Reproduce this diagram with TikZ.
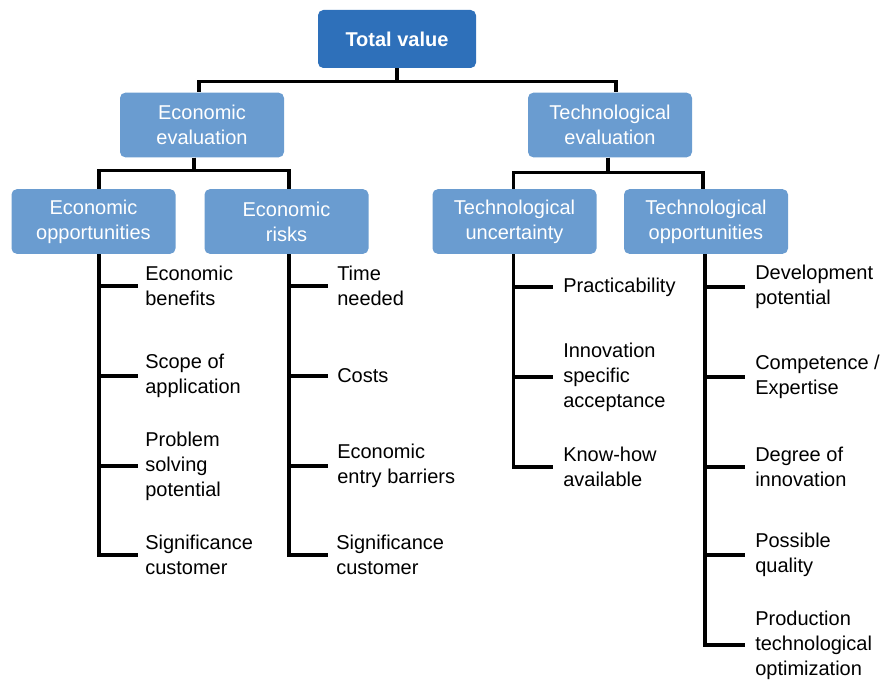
\documentclass[tikz,border=0pt]{standalone}
\usepackage{fontspec}
\setmainfont{Liberation Sans}
\usetikzlibrary{calc}
\definecolor{darkbox}{HTML}{2E70BA}
\definecolor{lightbox}{HTML}{6A9CD0}
\begin{document}
\begin{tikzpicture}[x=0.75pt,y=-0.75pt,
  every node/.style={font=\fontsize{15}{18.75}\selectfont},
  topbox/.style={fill=darkbox,text=white,font=\fontsize{15}{18.75}\selectfont\bfseries,rounded corners=4pt,minimum width=118.5pt,minimum height=43.5pt,inner sep=0pt},
  midbox/.style={fill=lightbox,text=white,align=center,rounded corners=4pt,minimum width=123pt,minimum height=48.5pt,inner sep=0pt},
  leaf/.style={anchor=west,align=left,inner sep=0pt},
  conn/.style={draw=black,line width=2.3pt,line join=miter}
]
\useasboundingbox (0,0) rectangle (883,680);
% boxes
\node[topbox] (top) at (397,39) {Total value};
\node[midbox] (ee) at (202,125) {Economic\\evaluation};
\node[midbox] (te) at (610,125) {Technological\\evaluation};
\node[midbox] (eo) at (93.5,221.5) {Economic\\opportunities};
\node[midbox] (er) at (286.5,221.5) {Economic\\risks};
\node[midbox] (tu) at (514.5,221.5) {Technological\\uncertainty};
\node[midbox] (to) at (706,221.5) {Technological\\opportunities};
% leaves
\node[leaf] (e1) at (145,286) {Economic\\benefits};
\node[leaf] (e2) at (145,376) {Scope of\\application};
\node[leaf] (e3) at (145,466) {Problem\\solving\\potential};
\node[leaf] (e4) at (145,555) {Significance\\customer};
\node[leaf] (r1) at (337,286) {Time\\needed};
\node[leaf] (r2) at (337,376) {Costs};
\node[leaf] (r3) at (337,466) {Economic\\entry barriers};
\node[leaf] (r4) at (336,555) {Significance\\customer};
\node[leaf] (u1) at (563,287) {Practicability};
\node[leaf] (u2) at (563,377) {Innovation\\specific\\acceptance};
\node[leaf] (u3) at (563,467) {Know-how\\available};
\node[leaf] (o1) at (755,287) {Development\\potential};
\node[leaf] (o2) at (755,377) {Competence /\\Expertise};
\node[leaf] (o3) at (755,467) {Degree of\\innovation};
\node[leaf] (o4) at (755,555) {Possible\\quality};
\node[leaf] (o5) at (755,645) {Production\\technological\\optimization};
% tree connectors
\draw[conn] (top.south) |- ($(ee.north)+(-3,-11)$) -- ($(ee.north)+(-3,0)$);
\draw[conn] (top.south) |- ($(te.north)+(6,-11)$) -- ($(te.north)+(6,0)$);
\draw[conn] ($(ee.south)+(-8,0)$) |- ($(eo.north)+(5.5,-18)$) -- ($(eo.north)+(5.5,0)$);
\draw[conn] ($(ee.south)+(-8,0)$) |- ($(er.north)+(2.5,-18)$) -- ($(er.north)+(2.5,0)$);
\draw[conn] ($(te.south)+(-2,0)$) |- ($(tu.north)+(-1,-16)$) -- ($(tu.north)+(-1,0)$);
\draw[conn] ($(te.south)+(-2,0)$) |- ($(to.north)+(-3,-16)$) -- ($(to.north)+(-3,0)$);
% leaf connectors
\coordinate (eoL) at ($(eo.south)+(5.5,0)$);
\coordinate (erL) at ($(er.south)+(2.5,0)$);
\coordinate (tuL) at ($(tu.south)+(-1,0)$);
\coordinate (toL) at ($(to.south)+(-1,0)$);
\draw[conn] (eoL) |- ($(e4.west)+(-7,0)$);
\foreach \n in {e1,e2,e3} \draw[conn] (eoL |- \n.west) -- ($(\n.west)+(-7,0)$);
\draw[conn] (erL) |- ($(r4.west)+(-8,0)$);
\foreach \n in {r1,r2,r3} \draw[conn] (erL |- \n.west) -- ($(\n.west)+(-9,0)$);
\draw[conn] (tuL) |- ($(u3.west)+(-10,0)$);
\foreach \n in {u1,u2} \draw[conn] (tuL |- \n.west) -- ($(\n.west)+(-10,0)$);
\draw[conn] (toL) |- ($(o5.west)+(-10,0)$);
\foreach \n in {o1,o2,o3,o4} \draw[conn] (toL |- \n.west) -- ($(\n.west)+(-10,0)$);
\end{tikzpicture}
\end{document}
